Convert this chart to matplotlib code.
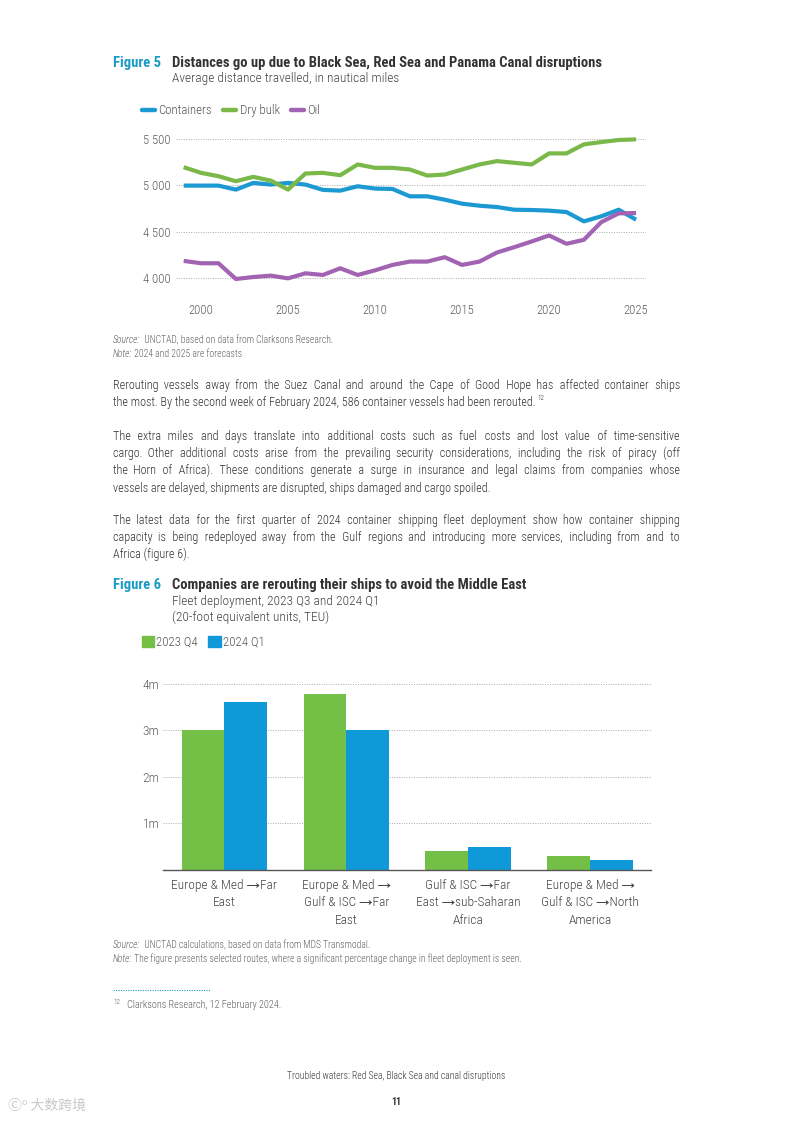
import matplotlib
matplotlib.use("Agg")
import matplotlib.pyplot as plt
from matplotlib.lines import Line2D
from matplotlib.patches import Patch
import numpy as np

# ---------------- DATA ----------------
years = list(range(1999, 2026))
containers = [4996, 4996, 4996, 4953, 5025, 5007, 5025, 5007, 4950, 4942, 4989, 4964, 4960,
              4881, 4881, 4845, 4802, 4780, 4766, 4737, 4734, 4727, 4712, 4612, 4666, 4737, 4630]
dry_bulk = [5194, 5133, 5097, 5043, 5090, 5050, 4953, 5126, 5133, 5108, 5223, 5187, 5187,
            5169, 5104, 5115, 5169, 5223, 5259, 5241, 5223, 5342, 5342, 5439, 5464, 5486, 5493]
oil = [4187, 4162, 4162, 3993, 4014, 4029, 4000, 4054, 4036, 4108, 4036, 4086, 4144,
       4180, 4180, 4227, 4144, 4180, 4277, 4335, 4396, 4461, 4371, 4414, 4604, 4698, 4701]
line_series = ["Containers", "Dry bulk", "Oil"]
line_ticks_x = [2000, 2005, 2010, 2015, 2020, 2025]
line_ticks_y = [4000, 4500, 5000, 5500]
line_ticklabels_y = ["4 000", "4 500", "5 000", "5 500"]

routes = ["Europe & Med \u2192Far\nEast",
          "Europe & Med \u2192\nGulf & ISC \u2192Far\nEast",
          "Gulf & ISC \u2192Far\nEast \u2192sub-Saharan\nAfrica",
          "Europe & Med \u2192\nGulf & ISC \u2192North\nAmerica"]
q4_2023 = [3.02, 3.78, 0.41, 0.30]
q1_2024 = [3.62, 3.00, 0.49, 0.215]
bar_series = ["2023 Q4", "2024 Q1"]
bar_ticks_y = [1, 2, 3, 4]
bar_ticklabels_y = ["1m", "2m", "3m", "4m"]

# ---------------- STYLE ----------------
FONT = ['Roboto Condensed', 'Archivo Narrow', 'Liberation Sans Narrow', 'DejaVu Sans']
plt.rcParams['font.family'] = FONT
W, H = 793, 1122
C_BLUE = "#1c99d2"
C_GREEN = "#7bb84a"
C_PURPLE = "#a263b2"
B_GREEN = "#74bf45"
B_BLUE = "#0f99d8"
TEAL = "#1a9bc4"
TXT = "#333333"
GREY = "#5e5e5e"
LIGHT = 300
HAIR = "\u200a"

fig = plt.figure(figsize=(W / 100, H / 100), dpi=100)
renderer = fig.canvas.get_renderer()


def fx(x):
    return x / W


def fy(y):
    return 1 - y / H


def put(x, y, s, **kw):
    kw.setdefault('va', 'center')
    kw.setdefault('color', TXT)
    return fig.text(fx(x), fy(y), s, **kw)


def width_px(t):
    return t.get_window_extent(renderer=renderer).width


def justify(x0, x1, y, s, size, last=False, **kw):
    yb = y + 4
    t = put(x0, yb, s, fontsize=size, va='baseline', **kw)
    if last:
        return t
    words = s.split(' ')
    ngaps = len(words) - 1
    w0 = width_px(t)
    t.set_text((' ' + HAIR).join(words))
    w1 = width_px(t)
    hair = max((w1 - w0) / ngaps, 0.1)
    n_total = max(int(round((x1 - x0 - w0) / hair)), 0)
    base, extra = divmod(n_total, ngaps)
    # spread the remainder evenly over the gaps
    marks = set(int(round((k + 0.5) * ngaps / extra)) for k in range(extra)) if extra else set()
    out = words[0]
    for i, wd in enumerate(words[1:]):
        n = base + (1 if i in marks else 0)
        out += ' ' + HAIR * n + wd
    t.set_text(out)
    return t


def mixed(x, y, parts, size):
    for s, style in parts:
        t = put(x, y + 3, s, fontsize=size, style=style, color=GREY, va='baseline', weight=LIGHT)
        x += width_px(t)


# ---------------- FIGURE 5 ----------------
put(113, 63, "Figure 5", fontsize=10.5, weight='bold', color=TEAL)
put(171.5, 63, "Distances go up due to Black Sea, Red Sea and Panama Canal disruptions",
    fontsize=10.5, weight='bold', color="#333333")
put(171.5, 78.5, "Average distance travelled, in nautical miles", fontsize=9.6, color="#444444",
    weight=LIGHT)

ax1 = fig.add_axes([fx(176), fy(292.3), (646 - 176) / W, (292.3 - 133.1) / H])
for vals, col, lab in zip([containers, dry_bulk, oil], [C_BLUE, C_GREEN, C_PURPLE], line_series):
    ax1.plot(years, vals, color=col, lw=3, solid_capstyle='butt', label=lab, zorder=3)
ax1.set_xlim(1998.56, 2025.57)
ax1.set_ylim(3850, 5560)
ax1.set_xticks(line_ticks_x)
ax1.set_xticklabels([str(v) for v in line_ticks_x])
ax1.set_yticks(line_ticks_y)
ax1.set_yticklabels(line_ticklabels_y)
ax1.tick_params(length=0, labelsize=9.2, labelcolor=GREY)
ax1.tick_params(axis='x', pad=8.4)
ax1.tick_params(axis='y', pad=3.6)
for lbl in ax1.get_xticklabels() + ax1.get_yticklabels():
    lbl.set_fontweight(LIGHT)
ax1.grid(axis='y', color="#aaaaaa", ls=(0, (1, 1.5)), lw=0.7)
for sp in ax1.spines.values():
    sp.set_visible(False)
handles = [Line2D([], [], color=c, lw=3.2, solid_capstyle='round') for c in [C_BLUE, C_GREEN, C_PURPLE]]
fig.legend(handles, line_series, loc='center left', bbox_to_anchor=(fx(142), fy(110.7)),
           ncol=3, frameon=False, handlelength=1.0, handletextpad=0.25, columnspacing=0.9,
           prop={'size': 9.3, 'weight': LIGHT}, borderpad=0, borderaxespad=0,
           labelcolor="#555555")

mixed(113, 340, [("Source:", 'italic'), ("  UNCTAD, based on data from Clarksons Research.", 'normal')], 6.9)
mixed(113, 354, [("Note:", 'italic'), (" 2024 and 2025 are forecasts", 'normal')], 6.9)

# ---------------- BODY TEXT ----------------
XL, XR = 113, 680
paras = [
    (385, ["Rerouting vessels away from the Suez Canal and around the Cape of Good Hope has affected container ships",
           "the most. By the second week of February 2024, 586 container vessels had been rerouted."]),
    (436, ["The extra miles and days translate into additional costs such as fuel costs and lost value of time-sensitive",
           "cargo. Other additional costs arise from the prevailing security considerations, including the risk of piracy (off",
           "the Horn of Africa). These conditions generate a surge in insurance and legal claims from companies whose",
           "vessels are delayed, shipments are disrupted, ships damaged and cargo spoiled."]),
    (520, ["The latest data for the first quarter of 2024 container shipping fleet deployment show how container shipping",
           "capacity is being redeployed away from the Gulf regions and introducing more services, including from and to",
           "Africa (figure 6)."]),
]
for pi, (y0, lines) in enumerate(paras):
    for li, ln in enumerate(lines):
        t = justify(XL, XR, y0 + li * 17.2, ln, 8.7, last=(li == len(lines) - 1), weight=LIGHT)
        if pi == 0 and li == len(lines) - 1:
            wpx = width_px(t)
            put(XL + wpx + 1.5, y0 + li * 17.2 - 3.5, "12", fontsize=5, color=TXT, weight=LIGHT)

# ---------------- FIGURE 6 ----------------
put(113, 585, "Figure 6", fontsize=10.5, weight='bold', color=TEAL)
put(171.5, 585, "Companies are rerouting their ships to avoid the Middle East",
    fontsize=10.5, weight='bold', color="#333333")
put(171.5, 601, "Fleet deployment, 2023 Q3 and 2024 Q1", fontsize=9.6, color="#444444", weight=LIGHT)
put(171.5, 617, "(20-foot equivalent units, TEU)", fontsize=9.6, color="#444444", weight=LIGHT)

ax2 = fig.add_axes([fx(163.4), fy(870), (651 - 163.4) / W, (870 - 670) / H])
x = np.arange(len(routes))
bw = 0.35
ax2.bar(x - bw / 2, q4_2023, bw, color=B_GREEN, label=bar_series[0], zorder=3)
ax2.bar(x + bw / 2, q1_2024, bw, color=B_BLUE, label=bar_series[1], zorder=3)
ax2.set_xlim(-0.5, 3.5)
ax2.set_ylim(0, 4.3)
ax2.set_yticks(bar_ticks_y)
ax2.set_yticklabels(bar_ticklabels_y)
ax2.set_xticks(x)
ax2.set_xticklabels(routes, linespacing=1.44)
ax2.tick_params(length=0)
ax2.tick_params(axis='y', labelcolor=GREY, pad=3, labelsize=9.6)
ax2.tick_params(axis='x', labelcolor="#444444", pad=6.5, labelsize=9.6)
for lbl in ax2.get_xticklabels() + ax2.get_yticklabels():
    lbl.set_fontweight(LIGHT)
ax2.grid(axis='y', color="#aaaaaa", ls=(0, (1, 1.5)), lw=0.7)
ax2.set_axisbelow(True)
for k, sp in ax2.spines.items():
    sp.set_visible(k == 'bottom')
ax2.spines['bottom'].set_color("#555555")
ax2.spines['bottom'].set_linewidth(1.0)
ax2.spines['bottom'].set_zorder(4)

bh = [Patch(color=B_GREEN), Patch(color=B_BLUE)]
fig.legend(bh, bar_series, loc='center left', bbox_to_anchor=(fx(141.5), fy(642.5)),
           ncol=2, frameon=False, handlelength=1.0, handleheight=0.85, handletextpad=0.15,
           columnspacing=0.75, prop={'size': 9.3, 'weight': LIGHT}, borderpad=0, borderaxespad=0,
           labelcolor="#555555")

mixed(113, 945, [("Source:", 'italic'), ("  UNCTAD calculations, based on data from MDS Transmodal.", 'normal')], 6.9)
mixed(113, 959, [("Note:", 'italic'), (" The figure presents selected routes, where a significant percentage change in fleet deployment is seen.", 'normal')], 6.9)

# footnote separator
fig.add_artist(Line2D([fx(113), fx(210)], [fy(990), fy(990)], color=TEAL, lw=0.8, ls=(0, (1, 1.2))))
put(113, 1003, "12", fontsize=5, color=GREY, weight=LIGHT)
put(127, 1005, "Clarksons Research, 12 February 2024.", fontsize=7.4, color=GREY, weight=LIGHT)

# footer
put(396, 1076, "Troubled waters: Red Sea, Black Sea and canal disruptions", fontsize=6.9,
    ha='center', color="#333333", weight=LIGHT)
put(396, 1102, "11", fontsize=7, weight='bold', ha='center', color="#333333")
fig.text(fx(8), fy(1106), "\u24b8\u2070 大数跨境", fontsize=10, color="#bbbbbb", va='center',
         family=['Noto Sans CJK SC', 'DejaVu Sans'], alpha=0.8)

fig.savefig("out.png", dpi=100)
